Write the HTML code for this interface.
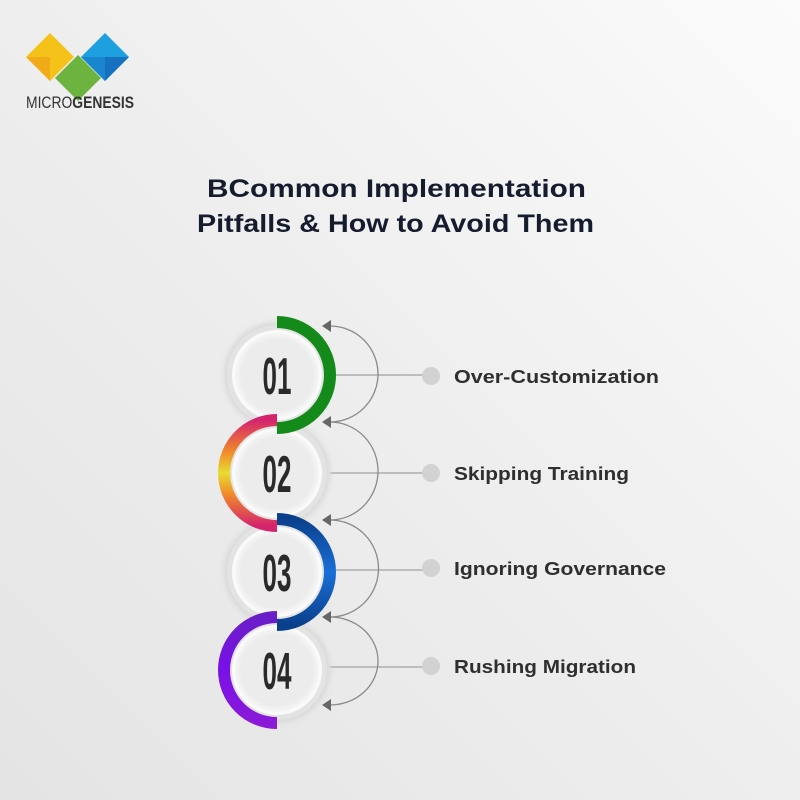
<!DOCTYPE html>
<html><head><meta charset="utf-8"><style>
html,body{margin:0;padding:0;width:800px;height:800px;overflow:hidden}
</style></head><body>
<svg width="800" height="800" viewBox="0 0 800 800" xmlns="http://www.w3.org/2000/svg">
<defs>
<linearGradient id="bg" x1="1" y1="0" x2="0" y2="1">
<stop offset="0" stop-color="#fbfbfb"/><stop offset="0.5" stop-color="#eeeeee"/><stop offset="1" stop-color="#e4e4e4"/>
</linearGradient>
<linearGradient id="g2" x1="0" y1="0" x2="0" y2="1">
<stop offset="0" stop-color="#d4246e"/><stop offset="0.3" stop-color="#f08a2a"/><stop offset="0.5" stop-color="#e8dc30"/><stop offset="0.7" stop-color="#f08a2a"/><stop offset="1" stop-color="#d4246e"/>
</linearGradient>
<linearGradient id="g3" x1="0" y1="0" x2="0" y2="1">
<stop offset="0" stop-color="#0a3f8c"/><stop offset="0.5" stop-color="#1a6fd8"/><stop offset="1" stop-color="#0a3f8c"/>
</linearGradient>
<linearGradient id="g4" x1="0" y1="0" x2="0" y2="1">
<stop offset="0" stop-color="#6a1ec8"/><stop offset="0.5" stop-color="#7a10e8"/><stop offset="1" stop-color="#8a1ad8"/>
</linearGradient>
<radialGradient id="inner" cx="0.5" cy="0.5" r="0.5">
<stop offset="0.85" stop-color="#ececec"/><stop offset="1" stop-color="#f6f6f6"/>
</radialGradient>
<filter id="sh" x="-30%" y="-30%" width="160%" height="160%"><feGaussianBlur stdDeviation="3"/></filter>
</defs>
<rect width="800" height="800" fill="url(#bg)"/>

<!-- logo -->
<g>
<polygon points="50,33 74,57 50,81 26,57" fill="#f5c21a"/>
<polygon points="26,57 50,81 50,57" fill="#f0a818" opacity="0.9"/>
<polygon points="78,55 101,78 78,101 55,78" fill="#6db33f"/>
<polygon points="105,33 129,57 105,81 81,57" fill="#1ea0e0"/>
<polygon points="105,57 129,57 105,81" fill="#1672c0"/>
<polygon points="105,57 81,57 105,81" fill="#1a86d0"/>
<text x="26" y="108" font-family="Liberation Sans, sans-serif" font-size="17" fill="#333" textLength="108" lengthAdjust="spacingAndGlyphs">MICRO<tspan font-weight="bold">GENESIS</tspan></text>
</g>

<!-- title -->
<g font-family="Liberation Sans, sans-serif" font-weight="bold" font-size="25" fill="#141c2e">
<text x="207" y="197" textLength="379" lengthAdjust="spacingAndGlyphs">BCommon Implementation</text>
<text x="197" y="232" textLength="397" lengthAdjust="spacingAndGlyphs">Pitfalls &amp; How to Avoid Them</text>
</g>

<!-- connectors -->
<g stroke="#bdbdbd" stroke-width="2">
<line x1="330" y1="375" x2="430" y2="375"/>
<line x1="330" y1="473" x2="430" y2="473"/>
<line x1="330" y1="570" x2="430" y2="570"/>
<line x1="330" y1="667" x2="430" y2="667"/>
</g>
<g fill="none" stroke="#8a8a8a" stroke-width="1.3">
<path d="M330,326 A48,48 0 0 1 330,422"/>
<path d="M330,422 A48,49 0 0 1 330,520"/>
<path d="M330,520 A48,48 0 0 1 330,617"/>
<path d="M330,617 A48,44 0 0 1 330,705"/>
</g>
<g fill="#666">
<polygon points="322,326 331,320 331,332"/>
<polygon points="322,422 331,416 331,428"/>
<polygon points="322,520 331,514 331,526"/>
<polygon points="322,617 331,611 331,623"/>
<polygon points="322,705 331,699 331,711"/>
</g>
<g fill="#d2d2d2">
<circle cx="431" cy="376" r="9"/><circle cx="431" cy="473" r="9"/><circle cx="431" cy="568" r="9"/><circle cx="431" cy="666" r="9"/>
</g>

<!-- circles -->
<g>
<circle cx="277" cy="375" r="53" fill="#d8d8d8" filter="url(#sh)"/>
<circle cx="277" cy="473" r="53" fill="#d8d8d8" filter="url(#sh)"/>
<circle cx="277" cy="572" r="53" fill="#d8d8d8" filter="url(#sh)"/>
<circle cx="277" cy="670" r="53" fill="#d8d8d8" filter="url(#sh)"/>
</g>
<g fill="#e3e3e3">
<circle cx="277" cy="375" r="50"/><circle cx="277" cy="473" r="50"/><circle cx="277" cy="572" r="50"/><circle cx="277" cy="670" r="50"/>
</g>
<g fill="#fafafa">
<circle cx="277" cy="375" r="45"/><circle cx="277" cy="473" r="45"/><circle cx="277" cy="572" r="45"/><circle cx="277" cy="670" r="45"/>
</g>
<g fill="url(#inner)">
<circle cx="277" cy="375" r="42"/><circle cx="277" cy="473" r="42"/><circle cx="277" cy="572" r="42"/><circle cx="277" cy="670" r="42"/>
</g>
<g fill="none" stroke-width="12">
<path d="M277,322 A53,53 0 0 1 277,428" stroke="#138a1a"/>
<path d="M277,420 A53,53 0 0 0 277,526" stroke="url(#g2)"/>
<path d="M277,519 A53,53 0 0 1 277,625" stroke="url(#g3)"/>
<path d="M277,617 A53,53 0 0 0 277,723" stroke="url(#g4)"/>
</g>
<g font-family="Liberation Sans, sans-serif" font-weight="bold" font-size="52" fill="#2a2a2a" text-anchor="middle">
<text x="277" y="394" transform="translate(277 0) scale(0.5 1) translate(-277 0)">01</text>
<text x="277" y="492" transform="translate(277 0) scale(0.5 1) translate(-277 0)">02</text>
<text x="277" y="591" transform="translate(277 0) scale(0.5 1) translate(-277 0)">03</text>
<text x="277" y="689" transform="translate(277 0) scale(0.5 1) translate(-277 0)">04</text>
</g>

<g font-family="Liberation Sans, sans-serif" font-weight="bold" font-size="18" fill="#2f2f2f">
<text x="454" y="383" textLength="205" lengthAdjust="spacingAndGlyphs">Over-Customization</text>
<text x="454" y="480" textLength="175" lengthAdjust="spacingAndGlyphs">Skipping Training</text>
<text x="454" y="575" textLength="212" lengthAdjust="spacingAndGlyphs">Ignoring Governance</text>
<text x="454" y="673" textLength="182" lengthAdjust="spacingAndGlyphs">Rushing Migration</text>
</g>
</svg>
</body></html>
